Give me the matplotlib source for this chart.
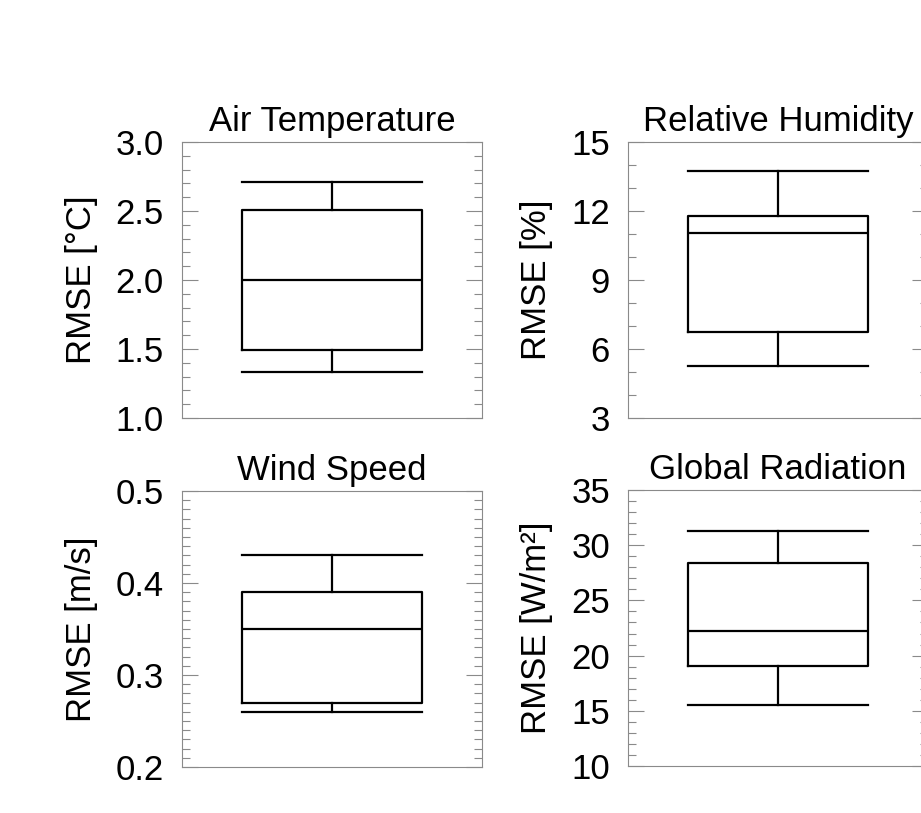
import matplotlib
matplotlib.use("Agg")
import matplotlib.pyplot as plt
from matplotlib.ticker import MultipleLocator

plt.rcParams["font.family"] = ["Liberation Sans", "DejaVu Sans"]

# ---- data -------------------------------------------------------------
titles = ["Air Temperature", "Relative Humidity", "Wind Speed", "Global Radiation"]
ylabels = ["RMSE [°C]", "RMSE [%]", "RMSE [m/s]", "RMSE [W/m²]"]

whislo = [1.33, 5.25, 0.26, 15.5]
q1 = [1.49, 6.75, 0.27, 19.05]
med = [2.00, 11.05, 0.35, 22.2]
q3 = [2.51, 11.78, 0.39, 28.4]
whishi = [2.71, 13.75, 0.43, 31.25]

ylims = [(1.0, 3.0), (3, 15), (0.2, 0.5), (10, 35)]
major_steps = [0.5, 3, 0.1, 5]
minor_steps = [0.1, 1, 0.01, 1]
tick_fmt = ["{:.1f}", "{:.0f}", "{:.1f}", "{:.0f}"]

# axes rectangles in figure fractions (left, bottom, width, height)
W, H = 921, 813
rects = [
    (182 / W, 1 - 418 / H, 300 / W, 276 / H),
    (628 / W, 1 - 418 / H, 300 / W, 276 / H),
    (182 / W, 1 - 767 / H, 300 / W, 276 / H),
    (628 / W, 1 - 766 / H, 300 / W, 276 / H),
]

fig = plt.figure(figsize=(W / 100, H / 100), dpi=100)
frame_col = "#8a8a8a"
line_kw = dict(color="black", linewidth=1.6)
fs = 25

for i in range(4):
    ax = fig.add_axes(rects[i])
    stats = [dict(whislo=whislo[i], q1=q1[i], med=med[i], q3=q3[i],
                  whishi=whishi[i], fliers=[])]
    ax.bxp(stats, positions=[1], widths=0.6, capwidths=0.6, showfliers=False,
           boxprops=line_kw, whiskerprops=line_kw, capprops=line_kw,
           medianprops=line_kw)
    ax.set_xlim(0.5, 1.5)
    ax.set_ylim(*ylims[i])
    ax.set_xticks([])

    ax.yaxis.set_major_locator(MultipleLocator(major_steps[i]))
    ax.yaxis.set_minor_locator(MultipleLocator(minor_steps[i]))
    fmt = tick_fmt[i]
    ax.yaxis.set_major_formatter(lambda v, p, fmt=fmt: fmt.format(v))
    ax.tick_params(axis="y", which="both", direction="in", left=True,
                   right=True, color=frame_col, width=0.8, labelsize=fs,
                   pad=13)
    ax.tick_params(axis="y", which="major", length=11.5)
    ax.tick_params(axis="y", which="minor", length=6)

    for s in ax.spines.values():
        s.set_color(frame_col)
        s.set_linewidth(0.8)

    ax.set_title(titles[i], fontsize=fs, pad=8)
    ax.set_ylabel(ylabels[i], fontsize=fs, labelpad=13)

fig.savefig("out.png", dpi=100)
